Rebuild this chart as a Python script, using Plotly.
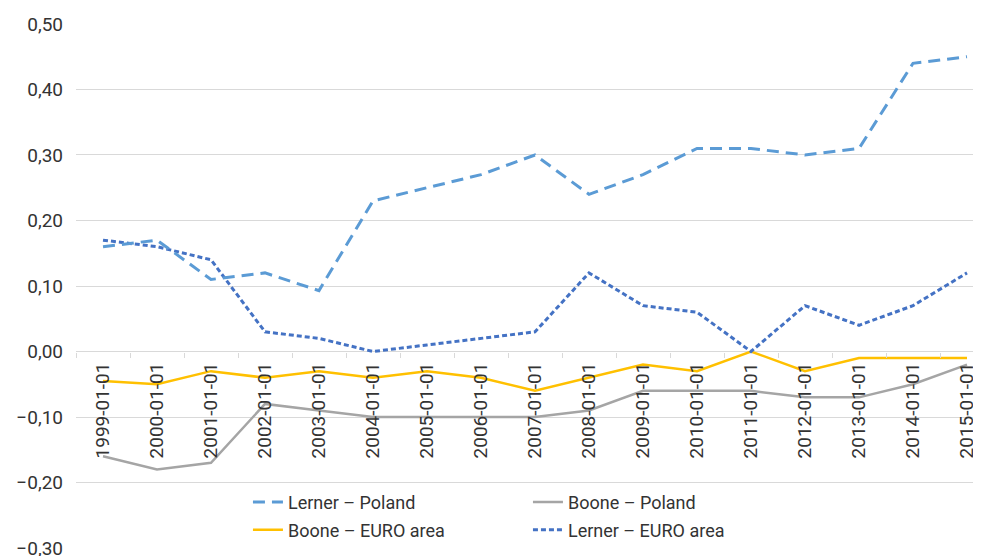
import plotly.graph_objects as go

years = [str(y) + "-01-01" for y in range(1999, 2016)]

lerner_poland = [0.16, 0.17, 0.11, 0.12, 0.093, 0.23, 0.25, 0.27, 0.30, 0.24, 0.27, 0.31, 0.31, 0.30, 0.31, 0.44, 0.45]
boone_poland = [-0.16, -0.18, -0.17, -0.08, -0.09, -0.10, -0.10, -0.10, -0.10, -0.09, -0.06, -0.06, -0.06, -0.07, -0.07, -0.05, -0.02]
boone_euro = [-0.045, -0.05, -0.03, -0.04, -0.03, -0.04, -0.03, -0.04, -0.06, -0.04, -0.02, -0.03, 0.00, -0.03, -0.01, -0.01, -0.01]
lerner_euro = [0.17, 0.16, 0.14, 0.03, 0.02, 0.00, 0.01, 0.02, 0.03, 0.12, 0.07, 0.06, 0.00, 0.07, 0.04, 0.07, 0.12]

names = ["Lerner – Poland", "Boone – Poland", "Boone – EURO area", "Lerner – EURO area"]

FONT = "Roboto, Liberation Sans Narrow, sans-serif"
TXT = "#333333"
GRID = "#d9d9d9"

fig = go.Figure()
fig.add_trace(go.Scatter(x=years, y=boone_poland, name=names[1], mode="lines",
                         line=dict(color="#a5a5a5", width=2.5), legend="legend"))
fig.add_trace(go.Scatter(x=years, y=boone_euro, name=names[2], mode="lines",
                         line=dict(color="#ffc000", width=2.5), legend="legend2"))
fig.add_trace(go.Scatter(x=years, y=lerner_euro, name=names[3], mode="lines",
                         line=dict(color="#4472c4", width=3, dash="5px,3px"), legend="legend2"))
fig.add_trace(go.Scatter(x=years, y=lerner_poland, name=names[0], mode="lines",
                         line=dict(color="#5b9bd5", width=3, dash="12px,7px"), legend="legend"))

ymin, ymax = -0.3, 0.5
eps = 0.0015

fig.update_layout(
    width=973, height=548,
    margin=dict(l=68, r=0, t=15, b=7, autoexpand=False),
    paper_bgcolor="white", plot_bgcolor="white",
    separators=", ",
    font=dict(family=FONT, size=19, color=TXT),
    xaxis=dict(
        type="category", categoryorder="array", categoryarray=years,
        range=[-0.5, -0.5 + 905 / 54],
        anchor="free", position=(0 - ymin) / (ymax - ymin),
        showline=False,
        ticks="outside", ticklen=5, tickcolor=GRID, tickson="boundaries",
        showgrid=False, tickangle=-90,
        tickfont=dict(family=FONT, size=19, color=TXT),
        ticklabelstandoff=6,
    ),
    yaxis=dict(
        range=[ymin - eps, ymax + eps], dtick=0.1, tick0=0, tickformat=".2f",
        showgrid=True, gridcolor=GRID, gridwidth=1,
        zeroline=False, showline=False, ticks="",
        ticklabelstandoff=12, ticklabeloverflow="allow",
        tickfont=dict(family=FONT, size=19, color=TXT),
    ),
    legend=dict(orientation="h", x=0.19, xanchor="left", y=0.089, yanchor="middle",
                entrywidth=235, entrywidthmode="pixels", traceorder="reversed",
                bgcolor="rgba(0,0,0,0)", font=dict(family=FONT, size=18, color=TXT)),
    legend2=dict(orientation="h", x=0.19, xanchor="left", y=0.036, yanchor="middle",
                 entrywidth=235, entrywidthmode="pixels", traceorder="normal",
                 bgcolor="rgba(0,0,0,0)", font=dict(family=FONT, size=18, color=TXT)),
    showlegend=True,
)

fig.write_html("out.html")
